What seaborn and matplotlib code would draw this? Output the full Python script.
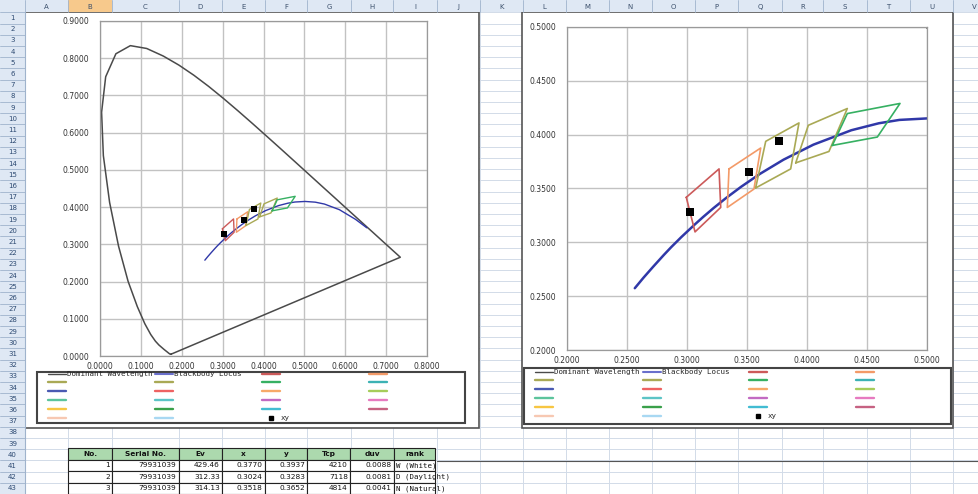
import matplotlib
matplotlib.use("Agg")
import matplotlib.pyplot as plt
import seaborn as sns
import pandas as pd
from matplotlib.lines import Line2D
from matplotlib.patches import Rectangle
from matplotlib.ticker import MultipleLocator, FormatStrFormatter

W, H = 979, 494

# spectral locus (Dominant Wavelength), 380-700 nm
spec_x = [0.1741, 0.1733, 0.1714, 0.1689, 0.1644, 0.1566, 0.1440, 0.1355, 0.1241,
          0.1096, 0.0913, 0.0687, 0.0454, 0.0235, 0.0082, 0.0039, 0.0139, 0.0389,
          0.0743, 0.1142, 0.1547, 0.1929, 0.2296, 0.2658, 0.3016, 0.3373, 0.3731,
          0.4087, 0.4441, 0.4788, 0.5125, 0.5448, 0.5752, 0.6029, 0.6270, 0.6482,
          0.6658, 0.6915, 0.7079, 0.7190, 0.7260, 0.7334, 0.7347]
spec_y = [0.0050, 0.0048, 0.0051, 0.0069, 0.0109, 0.0177, 0.0297, 0.0399, 0.0578,
          0.0868, 0.1327, 0.2007, 0.2950, 0.4127, 0.5384, 0.6548, 0.7502, 0.8120,
          0.8338, 0.8262, 0.8059, 0.7816, 0.7543, 0.7243, 0.6923, 0.6589, 0.6245,
          0.5896, 0.5547, 0.5202, 0.4866, 0.4544, 0.4242, 0.3965, 0.3725, 0.3514,
          0.3340, 0.3083, 0.2920, 0.2809, 0.2740, 0.2666, 0.2653]

# blackbody locus, 20000 K -> 1000 K
bb_x = [0.2565, 0.2637, 0.2720, 0.2807, 0.2869, 0.2952, 0.3064, 0.3135, 0.3221,
        0.3325, 0.3451, 0.3608, 0.3805, 0.4053, 0.4369, 0.4599, 0.4770, 0.5018,
        0.5267, 0.5491, 0.5857, 0.6250, 0.6528]
bb_y = [0.2574, 0.2671, 0.2776, 0.2883, 0.2956, 0.3048, 0.3165, 0.3236, 0.3318,
        0.3411, 0.3516, 0.3636, 0.3768, 0.3907, 0.4041, 0.4106, 0.4137, 0.4152,
        0.4133, 0.4082, 0.3931, 0.3672, 0.3444]

# rank quadrangles
quad1_x = [0.2994, 0.3267, 0.3281, 0.3067]
quad1_y = [0.3418, 0.3682, 0.3324, 0.3097]
quad2_x = [0.3350, 0.3614, 0.3558, 0.3336]
quad2_y = [0.3682, 0.3876, 0.3495, 0.3324]
quad3_x = [0.3572, 0.3656, 0.3933, 0.3864]
quad3_y = [0.3505, 0.3938, 0.4109, 0.3682]
quad4_x = [0.3906, 0.4011, 0.4336, 0.4183]
quad4_y = [0.3738, 0.4087, 0.4243, 0.3844]
quad5_x = [0.4211, 0.4336, 0.4775, 0.4586]
quad5_y = [0.3900, 0.4196, 0.4290, 0.3978]

# colours of the 20 unnamed series (first five are the quadrangles)
series_colors = ['#cc5a5a', '#f39a68', '#a9a955', '#a9a955', '#36b062', '#3cb2b4',
                 '#4a5ab2', '#ee6262', '#f7a968', '#a6cc5a',
                 '#5cc49c', '#5cc4c6', '#c26ac2', '#e67ac0',
                 '#f7c642', '#3aa04a', '#42bcd2', '#c66282',
                 '#f7c8b2', '#a8d8f2']

# measurements table
meas_no = [1, 2, 3]
meas_serial = ['79931039', '79931039', '79931039']
meas_ev = [429.46, 312.33, 314.13]
meas_x = [0.3770, 0.3024, 0.3518]
meas_y = [0.3937, 0.3283, 0.3652]
meas_tcp = [4210, 7118, 4814]
meas_duv = [0.0088, 0.0081, 0.0041]
meas_rank = ['W (White)', 'D (Daylight)', 'N (Natural)']
table_cols = ['No.', 'Serial No.', 'Ev', 'x', 'y', 'Tcp', 'duv', 'rank']

# sheet layout
col_edges = [25, 68, 112, 179, 222, 265, 307, 351, 393, 437, 480, 523, 566, 609,
             652, 695, 738, 782, 823, 867, 910, 953, 996]
col_letters = list('ABCDEFGHIJKLMNOPQRSTUV')
row_top, row_h, n_rows = 12.4, 11.2, 43

dw_color = '#4a4a4a'
bb_color = '#3038a8'

sns.set_theme(style="white")
plt.rcParams['font.family'] = ['DejaVu Sans']

fig = plt.figure(figsize=(W / 100, H / 100), dpi=100)
fig.patch.set_facecolor('white')


def fx(px):
    return px / W


def fy(py):
    return 1 - py / H


# ---- spreadsheet background ----
bg = fig.add_axes([0, 0, 1, 1], zorder=-5)
bg.set_xlim(0, W)
bg.set_ylim(H, 0)
bg.axis('off')
grid_c = '#d2dbe8'
for k in range(n_rows + 1):
    yk = row_top + k * row_h
    bg.plot([25, W], [yk, yk], color=grid_c, lw=0.7, zorder=1)
for xe in col_edges:
    bg.plot([xe, xe], [0, H], color=grid_c, lw=0.7, zorder=1)
bg.add_patch(Rectangle((0, 0), W, row_top, facecolor='#dfe8f4', edgecolor='none', zorder=3))
bg.add_patch(Rectangle((0, 0), 25, H, facecolor='#dfe8f4', edgecolor='none', zorder=3))
bg.add_patch(Rectangle((col_edges[1], 0), col_edges[2] - col_edges[1], row_top,
                       facecolor='#f7c98c', edgecolor='none', zorder=3))
for i, lt in enumerate(col_letters):
    bg.text((col_edges[i] + col_edges[i + 1]) / 2, row_top / 2 + 0.5, lt, fontsize=5,
            ha='center', va='center', color='#3b4f6b', zorder=4)
    bg.plot([col_edges[i], col_edges[i]], [0, row_top], color='#9fb3cc', lw=0.6, zorder=4)
for k in range(n_rows):
    yk = row_top + k * row_h
    bg.text(12.5, yk + row_h / 2, str(k + 1), fontsize=5, ha='center', va='center',
            color='#2d4a72', zorder=4)
    bg.plot([0, 25], [yk, yk], color='#9fb3cc', lw=0.6, zorder=4)
bg.plot([25, 25], [row_top, H], color='#9fb3cc', lw=0.8, zorder=4)
bg.plot([437, W], [460.5, 460.5], color='#555555', lw=0.8, zorder=2)

# chart areas and legend frames
for (x0, y0, x1, y1) in [(25, 12, 479, 428), (522, 12, 953, 428)]:
    bg.add_patch(Rectangle((x0, y0), x1 - x0, y1 - y0, facecolor='white',
                           edgecolor='#555555', lw=1.2, zorder=2))
for (x0, y0, x1, y1) in [(37, 372, 465, 423), (524, 368, 951, 424)]:
    bg.add_patch(Rectangle((x0, y0), x1 - x0, y1 - y0, facecolor='white',
                           edgecolor='#444444', lw=1.5, zorder=2.5))

# ---- chart data frames ----
spec_df = pd.DataFrame({'x': spec_x + spec_x[:1], 'y': spec_y + spec_y[:1]})
bb_df = pd.DataFrame({'x': bb_x, 'y': bb_y})
quads = [(quad1_x, quad1_y), (quad2_x, quad2_y), (quad3_x, quad3_y),
         (quad4_x, quad4_y), (quad5_x, quad5_y)]
rows = []
for i, (qx, qy) in enumerate(quads):
    for a, b in zip(qx + qx[:1], qy + qy[:1]):
        rows.append({'bin': f'q{i + 1}', 'x': a, 'y': b})
quad_df = pd.DataFrame(rows)
quad_pal = dict(zip([f'q{i + 1}' for i in range(5)], series_colors[:5]))


def draw_chart(ax, xlim, ylim, step, bb_lw, mk, q_lw):
    sns.lineplot(data=spec_df, x='x', y='y', sort=False, estimator=None,
                 color=dw_color, lw=1.1, ax=ax)
    sns.lineplot(data=bb_df, x='x', y='y', sort=False, estimator=None,
                 color=bb_color, lw=bb_lw, ax=ax)
    sns.lineplot(data=quad_df, x='x', y='y', hue='bin', palette=quad_pal, sort=False,
                 estimator=None, lw=q_lw, legend=False, ax=ax)
    sns.scatterplot(x=meas_x, y=meas_y, marker='s', color='black', s=mk,
                    linewidth=0, ax=ax, zorder=5)
    ax.set_xlim(*xlim)
    ax.set_ylim(*ylim)
    ax.set_xlabel('')
    ax.set_ylabel('')
    ax.xaxis.set_major_locator(MultipleLocator(step[0]))
    ax.yaxis.set_major_locator(MultipleLocator(step[1]))
    ax.xaxis.set_major_formatter(FormatStrFormatter('%.4f'))
    ax.yaxis.set_major_formatter(FormatStrFormatter('%.4f'))
    ax.grid(True, color='#c2c2c2', lw=1.0)
    ax.set_axisbelow(True)
    for sp in ax.spines.values():
        sp.set_color('#9a9a9a')
        sp.set_linewidth(0.9)
    ax.tick_params(axis='both', length=0, labelsize=5.5, colors='#333333')
    ax.tick_params(axis='y', pad=8)
    ax.tick_params(axis='x', pad=4)
    ax.set_facecolor('white')


axL = fig.add_axes([fx(100), fy(356), 327 / W, 335 / H])
draw_chart(axL, (0, 0.8), (0, 0.9), (0.1, 0.1), 1.0, 16, 1.0)
axR = fig.add_axes([fx(567), fy(350), 360 / W, 323 / H])
draw_chart(axR, (0.2, 0.5), (0.2, 0.5), (0.05, 0.05), 1.8, 34, 1.2)

# ---- legends (Excel style, row-major 4 columns) ----
handles = [Line2D([], [], color=dw_color, lw=1.0),
           Line2D([], [], color='#6a70cc', lw=1.5)]
handles += [Line2D([], [], color=c, lw=1.7) for c in series_colors]
handles += [Line2D([], [], marker='s', color='black', ls='none', markersize=2.6)]
labels = ['Dominant Wavelength', 'Blackbody Locus'] + [''] * 20 + ['xy']


def add_legend(col_x, top_y):
    for c in range(4):
        fig.legend(handles[c::4], labels[c::4], loc='upper left',
                   bbox_to_anchor=(fx(col_x[c]), fy(top_y)), frameon=False,
                   borderpad=0, borderaxespad=0, handlelength=2.4, handletextpad=0.1,
                   labelspacing=0.34, prop={'family': 'DejaVu Sans Mono', 'size': 5.4})


add_legend([48, 155, 262, 369], 371)
add_legend([535, 643, 749, 856], 369)

# ---- table ----
axT = fig.add_axes([fx(68), 0, (435 - 68) / W, 46 / H])
axT.axis('off')
cell_text = [[str(meas_no[i]), meas_serial[i], f'{meas_ev[i]:.2f}', f'{meas_x[i]:.4f}',
              f'{meas_y[i]:.4f}', str(meas_tcp[i]), f'{meas_duv[i]:.4f}', meas_rank[i]]
             for i in range(3)]
col_px = [44, 67, 43, 43, 42, 43, 44, 41]
tab = axT.table(cellText=cell_text, colLabels=table_cols,
                colWidths=[w / sum(col_px) for w in col_px], bbox=[0, 0, 1, 1],
                cellLoc='right')
tab.auto_set_font_size(False)
for (r, c), cell in tab.get_celld().items():
    cell.set_edgecolor('#222222')
    cell.set_linewidth(0.8)
    cell.PAD = 0.05
    cell.set_text_props(fontsize=5.3, color='#111111')
    if r == 0:
        cell.set_facecolor('#acd9ae')
        cell.set_text_props(ha='center', fontweight='bold')
    elif c == 7:
        cell.set_text_props(ha='left', family='DejaVu Sans Mono')

fig.savefig('out.png', dpi=100)
